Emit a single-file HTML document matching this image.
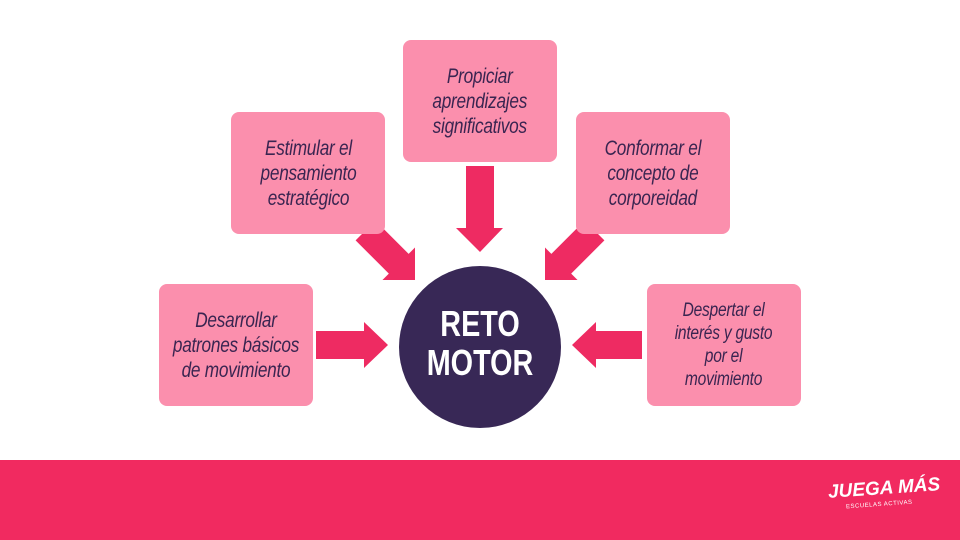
<!DOCTYPE html>
<html><head><meta charset="utf-8"><style>
body{margin:0;width:960px;height:540px;background:#fff;position:relative;overflow:hidden;font-family:"Liberation Sans",sans-serif}
.box{position:absolute;width:154px;height:122px;background:#fb8fad;border-radius:8px;display:flex;align-items:center;justify-content:center;text-align:center;color:#3a2551;font-style:italic;font-size:21px;line-height:25px;letter-spacing:-0.3px}
.box span{display:inline-block;transform:scaleX(.82);white-space:nowrap}
.foot{position:absolute;left:0;top:460px;width:960px;height:80px;background:#f12a60}
</style></head><body>
<svg width="960" height="540" style="position:absolute;left:0;top:0">
<g fill="#ee2b62">
<polygon points="466,166 494,166 494,228 503,228 480,252 456,228 466,228"/>
<polygon points="316,331 364,331 364,322 388,345 364,368 364,359 316,359"/>
<polygon points="642,331 596,331 596,322 572,345 596,368 596,359 642,359"/>
<polygon points="0,-14 47,-14 47,-23 70,0 47,23 47,14 0,14" transform="translate(365.5,230.5) rotate(45)"/>
<polygon points="0,-14 47,-14 47,-23 70,0 47,23 47,14 0,14" transform="translate(594.5,230.5) rotate(135)"/>
</g>
</svg>
<div class="box" style="left:403px;top:40px"><span>Propiciar<br>aprendizajes<br>significativos</span></div>
<div class="box" style="left:231px;top:112px"><span>Estimular el<br>pensamiento<br>estratégico</span></div>
<div class="box" style="left:576px;top:112px"><span>Conformar el<br>concepto de<br>corporeidad</span></div>
<div class="box" style="left:159px;top:284px"><span>Desarrollar<br>patrones básicos<br>de movimiento</span></div>
<div class="box" style="left:647px;top:284px;font-size:19px;line-height:23px"><span>Despertar el<br>interés y gusto<br>por el<br>movimiento</span></div>
<svg width="960" height="540" style="position:absolute;left:0;top:0">
<circle cx="480" cy="347" r="81" fill="#382856"/>
<g transform="translate(480,0) scale(0.8,1)">
<text x="0" y="336" text-anchor="middle" fill="#fff" font-family="Liberation Sans" font-weight="bold" font-size="36">RETO</text>
<text x="0" y="375" text-anchor="middle" fill="#fff" font-family="Liberation Sans" font-weight="bold" font-size="36">MOTOR</text>
</g>
</svg>
<div class="foot"></div>
<div style="position:absolute;left:828px;top:478px;color:#fff;font-weight:bold;font-style:italic;font-size:19px;transform:rotate(-4deg)">JUEGA MÁS</div>
<div style="position:absolute;left:846px;top:502px;color:#fff;font-size:6px;letter-spacing:.5px;transform:rotate(-4deg)">ESCUELAS ACTIVAS</div>
</body></html>
